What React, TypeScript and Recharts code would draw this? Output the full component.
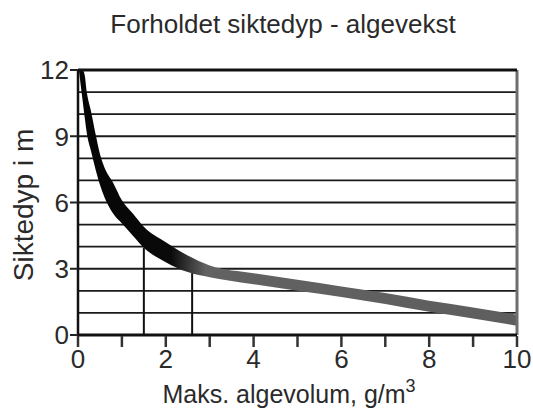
import React from "react";
import { Area, ComposedChart, CartesianGrid, ReferenceLine, XAxis, YAxis } from "recharts";

// algevolum (g/m3) along the x axis
const algae = [0.02, 0.05, 0.1, 0.15, 0.2, 0.3, 0.4, 0.5, 0.6, 0.8, 1, 1.25, 1.5, 2, 2.5, 3, 4, 5, 6, 7, 8, 9, 10];
// lower and upper edge of the band, siktedyp in m
const depthLow = [12, 11.5, 10.7, 9.9, 9.15, 8.3, 7.5, 6.8, 6.25, 5.5, 5.05, 4.5, 3.95, 3.3, 2.85, 2.62, 2.3, 2.0, 1.72, 1.4, 1.05, 0.75, 0.42];
const depthHigh = [12, 12, 12, 11.8, 11.0, 10.1, 9.1, 8.2, 7.6, 6.9, 6.1, 5.5, 4.9, 4.2, 3.6, 3.15, 2.8, 2.5, 2.2, 1.9, 1.55, 1.25, 0.92];

const xTicks = [0, 1, 2, 3, 4, 5, 6, 7, 8, 9, 10];
const yTicks = [0, 1, 2, 3, 4, 5, 6, 7, 8, 9, 10, 11, 12];

// the two reading lines up to the band
const guideX = [1.5, 2.6];
const guideTop = [3.95, 2.8];

const data = algae.map((x, i) => ({ x, band: [depthLow[i], depthHigh[i]] }));

const FONT = "'Liberation Sans', Arial, sans-serif";
const INK = "#2a2a2a";

const XTick = (props: any) => {
  const { x, y, payload } = props;
  const v = payload.value;
  return (
    <g>
      <line x1={x} x2={x} y1={y - 13} y2={y - 2} stroke="#333" strokeWidth={2.5} />
      {v % 2 === 0 && (
        <text x={x} y={y + 19} textAnchor="middle" fontSize={26} fill={INK} fontFamily={FONT}>
          {v}
        </text>
      )}
    </g>
  );
};

const YTick = (props: any) => {
  const { x, y, payload } = props;
  const v = payload.value;
  if (v % 3 !== 0) return null;
  return (
    <g>
      <line x1={x + 1} x2={x + 9} y1={y} y2={y} stroke="#222" strokeWidth={2} />
      <text x={x} y={y} dy="0.36em" textAnchor="end" fontSize={26} fill={INK} fontFamily={FONT}>
        {v}
      </text>
    </g>
  );
};

export default function App() {
  return (
    <div style={{ position: "absolute", left: 0, top: 0, width: 533, height: 412, background: "#fff" }}>
      <svg width={533} height={412} style={{ position: "absolute", left: 0, top: 0 }}>
        <text x={283} y={33} textAnchor="middle" fontSize={26} fill={INK} fontFamily={FONT}>
          Forholdet siktedyp - algevekst
        </text>
        <text x={289} y={403} textAnchor="middle" fontSize={25} fill={INK} fontFamily={FONT}>
          Maks. algevolum, g/m<tspan dy={-11} fontSize={18}>3</tspan>
        </text>
        <text
          transform="translate(33,205) rotate(-90)"
          textAnchor="middle"
          fontSize={28}
          fill={INK}
          fontFamily={FONT}
        >
          Siktedyp i m
        </text>
      </svg>
      <ComposedChart
        width={533}
        height={412}
        data={data}
        margin={{ top: 70, right: 16, bottom: 17, left: 8 }}
        style={{ position: "absolute", left: 0, top: 0 }}
      >
        <defs>
          <linearGradient id="bandFill" x1="0" y1="0" x2="1" y2="0">
            <stop offset="0%" stopColor="#050505" />
            <stop offset="21%" stopColor="#0a0a0a" />
            <stop offset="29%" stopColor="#626262" />
            <stop offset="100%" stopColor="#5e5e5e" />
          </linearGradient>
        </defs>
        <CartesianGrid vertical={false} stroke="#1a1a1a" strokeWidth={1.8} />
        <XAxis
          dataKey="x"
          type="number"
          domain={[0, 10]}
          ticks={xTicks}
          interval={0}
          height={60}
          tickSize={14}
          tickMargin={0}
          tickLine={false}
          tick={<XTick />}
          axisLine={{ stroke: "#111", strokeWidth: 3 }}
        />
        <YAxis
          type="number"
          domain={[0, 12]}
          ticks={yTicks}
          interval={0}
          width={70}
          tickSize={8}
          tickMargin={1}
          tickLine={false}
          tick={<YTick />}
          axisLine={{ stroke: "#111", strokeWidth: 2.5 }}
        />
        {guideX.map((gx, i) => (
          <ReferenceLine
            key={gx}
            segment={[
              { x: gx, y: 0 },
              { x: gx, y: guideTop[i] },
            ]}
            stroke="#111"
            strokeWidth={2}
          />
        ))}
        <ReferenceLine x={10} stroke="#6e6e6e" strokeWidth={3} />
        <ReferenceLine y={12} stroke="#111" strokeWidth={3} />
        <Area
          type="monotone"
          dataKey="band"
          stroke="none"
          fill="url(#bandFill)"
          fillOpacity={1}
          isAnimationActive={false}
          activeDot={false}
          dot={false}
        />
      </ComposedChart>
    </div>
  );
}
